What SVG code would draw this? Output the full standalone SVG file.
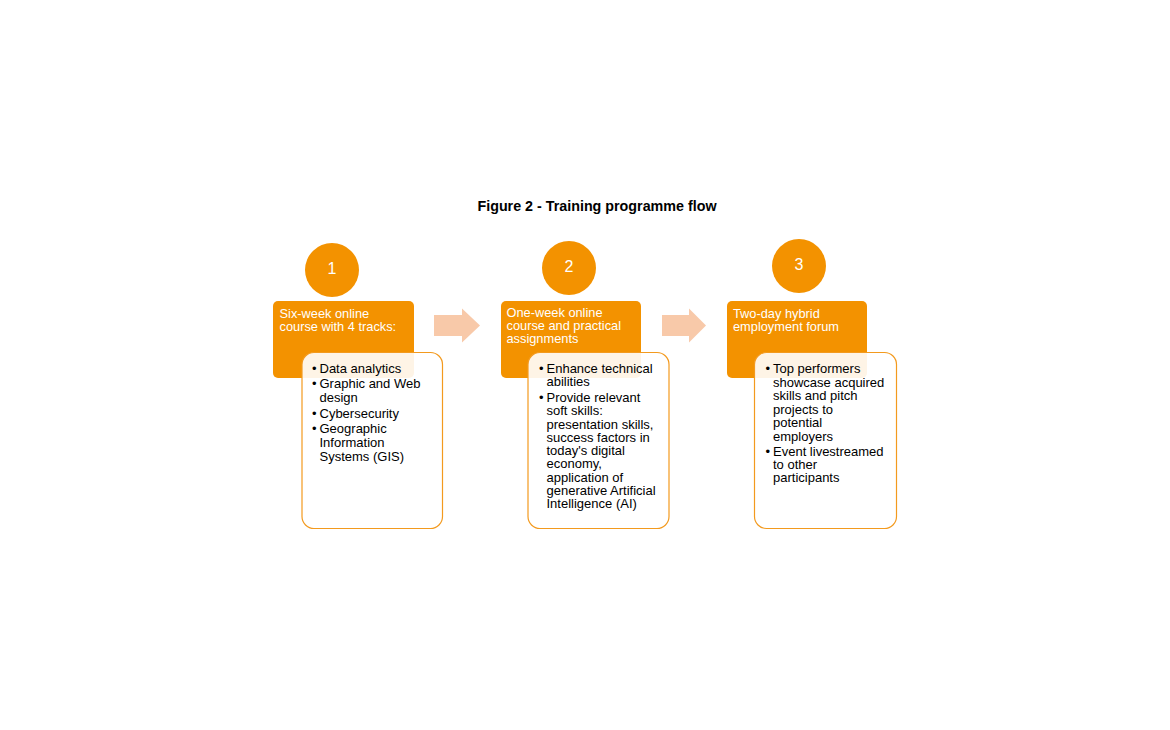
<svg xmlns="http://www.w3.org/2000/svg" width="1170" height="730" viewBox="0 0 1170 730">
<style>
.bg{fill:#ffffff}
.title{font-family:"Liberation Sans",Arial,sans-serif;font-size:14.3px;font-weight:bold;fill:#000}
.circ{fill:#F39200}
.num{font-family:"Liberation Sans",Arial,sans-serif;font-size:16px;fill:#fff;text-anchor:middle}
.head{fill:#F39200}
.htxt{font-family:"Liberation Sans",Arial,sans-serif;font-size:12.8px;fill:#fff}
.card{fill:#ffffff;fill-opacity:0.9;stroke:#F39A1E;stroke-width:1.2}
.btxt{font-family:"Liberation Sans",Arial,sans-serif;font-size:13px;fill:#000}
.arrow{fill:#F8C9A9}
</style>
<rect class="bg" x="0" y="0" width="1170" height="730"/>
<text class="title" x="597" y="210.5" text-anchor="middle">Figure 2 - Training programme flow</text>

<g id="connectors">
  <polygon class="arrow" points="434,315 462,315 462,308.5 480,325.5 462,342.5 462,336 434,336"/>
  <polygon class="arrow" points="662,315 689,315 689,308.5 706,325.5 689,342.5 689,336 662,336"/>
</g>

<g id="step1">
  <circle class="circ" cx="332" cy="270" r="27"/>
  <text class="num" x="332" y="274">1</text>
  <rect class="head" x="273" y="301" width="141" height="77" rx="5"/>
  <text class="htxt" x="279.5" y="317.8">Six-week online</text>
  <text class="htxt" x="279.5" y="331">course with 4 tracks:</text>
  <rect class="card" x="302" y="352.5" width="140.5" height="176" rx="12"/>
  <text class="btxt" x="312" y="373">•</text>
  <text class="btxt" x="319.5" y="373">Data analytics</text>
  <text class="btxt" x="312" y="387.5">•</text>
  <text class="btxt" x="319.5" y="387.5">Graphic and Web</text>
  <text class="btxt" x="319.5" y="401.5">design</text>
  <text class="btxt" x="312" y="417.5">•</text>
  <text class="btxt" x="319.5" y="417.5">Cybersecurity</text>
  <text class="btxt" x="312" y="433">•</text>
  <text class="btxt" x="319.5" y="433">Geographic</text>
  <text class="btxt" x="319.5" y="447">Information</text>
  <text class="btxt" x="319.5" y="461">Systems (GIS)</text>
</g>

<g id="step2">
  <circle class="circ" cx="569" cy="268" r="27"/>
  <text class="num" x="569" y="272">2</text>
  <rect class="head" x="501" y="301" width="140" height="77" rx="5"/>
  <text class="htxt" x="506.5" y="317">One-week online</text>
  <text class="htxt" x="506.5" y="330.2">course and practical</text>
  <text class="htxt" x="506.5" y="343.4">assignments</text>
  <rect class="card" x="528" y="352.5" width="141" height="176" rx="12"/>
  <text class="btxt" x="539" y="372.7">•</text>
  <text class="btxt" x="546.5" y="372.7">Enhance technical</text>
  <text class="btxt" x="546.5" y="385.9">abilities</text>
  <text class="btxt" x="539" y="401.7">•</text>
  <text class="btxt" x="546.5" y="401.7">Provide relevant</text>
  <text class="btxt" x="546.5" y="415">soft skills:</text>
  <text class="btxt" x="546.5" y="428.5">presentation skills,</text>
  <text class="btxt" x="546.5" y="441.7">success factors in</text>
  <text class="btxt" x="546.5" y="455">today's digital</text>
  <text class="btxt" x="546.5" y="468.3">economy,</text>
  <text class="btxt" x="546.5" y="481.7">application of</text>
  <text class="btxt" x="546.5" y="495">generative Artificial</text>
  <text class="btxt" x="546.5" y="508.3">Intelligence (AI)</text>
</g>

<g id="step3">
  <circle class="circ" cx="799" cy="266" r="27"/>
  <text class="num" x="799" y="270">3</text>
  <rect class="head" x="727" y="301" width="140" height="77" rx="5"/>
  <text class="htxt" x="733" y="317.8">Two-day hybrid</text>
  <text class="htxt" x="733" y="331">employment forum</text>
  <rect class="card" x="754.5" y="352.5" width="142" height="176" rx="12"/>
  <text class="btxt" x="765.5" y="373.3">•</text>
  <text class="btxt" x="773" y="373.3">Top performers</text>
  <text class="btxt" x="773" y="386.7">showcase acquired</text>
  <text class="btxt" x="773" y="400.3">skills and pitch</text>
  <text class="btxt" x="773" y="413.5">projects to</text>
  <text class="btxt" x="773" y="427">potential</text>
  <text class="btxt" x="773" y="440.5">employers</text>
  <text class="btxt" x="765.5" y="455.5">•</text>
  <text class="btxt" x="773" y="455.5">Event livestreamed</text>
  <text class="btxt" x="773" y="469">to other</text>
  <text class="btxt" x="773" y="482.3">participants</text>
</g>
</svg>
